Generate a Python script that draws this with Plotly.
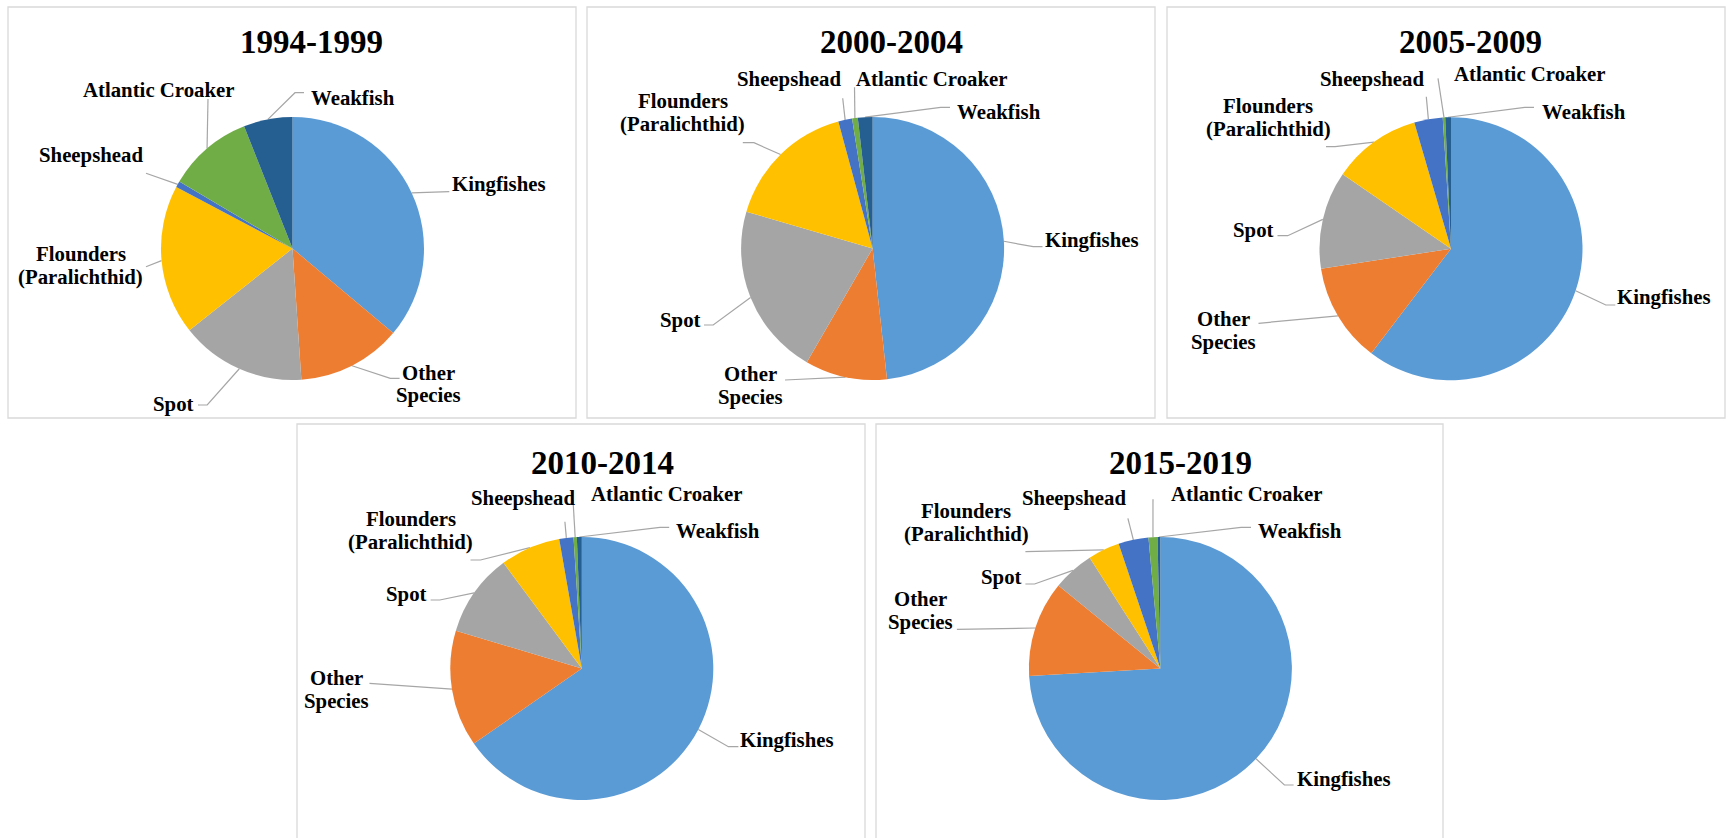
import math
import plotly.graph_objects as go

# ---------------------------------------------------------------- data
periods = ["1994-1999", "2000-2004", "2005-2009", "2010-2014", "2015-2019"]

species = ["Kingfishes", "Other Species", "Spot", "Flounders (Paralichthid)",
           "Sheepshead", "Atlantic Croaker", "Weakfish"]
species_text = ["Kingfishes", "Other\nSpecies", "Spot", "Flounders\n(Paralichthid)",
                "Sheepshead", "Atlantic Croaker", "Weakfish"]

# percent share of landings per species, same order as `species`
share_1994_1999 = [36.1, 12.8, 15.4, 18.4, 0.75, 10.5, 6.0]
share_2000_2004 = [48.3, 10.1, 21.2, 16.3, 1.7, 0.7, 1.8]
share_2005_2009 = [60.3, 12.2, 12.0, 10.9, 3.5, 0.3, 0.7]
share_2010_2014 = [65.3, 14.3, 10.2, 7.4, 1.75, 0.4, 0.6]
share_2015_2019 = [74.2, 11.8, 5.1, 3.9, 3.7, 1.1, 0.35]

shares = [share_1994_1999, share_2000_2004, share_2005_2009,
          share_2010_2014, share_2015_2019]

colors = ["#5B9BD5", "#ED7D31", "#A5A5A5", "#FFC000", "#4472C4", "#70AD47", "#255E91"]

# ---------------------------------------------------------------- layout (pixels)
W, H = 1732, 838
R = 131.5
FONT = "Liberation Serif"
LABEL_SIZE = 20.8
TITLE_SIZE = 33
LEADER = "#A6A6A6"
BORDER = "#D9D9D9"

panels = [
    dict(center=(292.5, 248.5), box=(8, 7, 576, 418), title=(311.7, 41.5)),
    dict(center=(872.6, 248.5), box=(587, 7, 1155, 418), title=(891.0, 41.5)),
    dict(center=(1451.0, 248.7), box=(1167, 7, 1725, 418), title=(1470.5, 41.5)),
    dict(center=(581.8, 668.5), box=(297, 424, 865, 850), title=(602.0, 462.5)),
    dict(center=(1160.4, 668.5), box=(876, 424, 1443, 850), title=(1180.0, 462.5)),
]

# per panel, per species: text line centres and the leader-line path from the
# slice edge towards the label
label_layout = [
    [  # 1994-1999
        dict(lines=[(499.2, 184.0)], path=[(449.3, 191.7)]),
        dict(lines=[(428.4, 372.6), (428.6, 395.4)], path=[(390.3, 378.3), (399.6, 378.3)]),
        dict(lines=[(173.9, 403.6)], path=[(207.2, 405.0), (198.0, 405.0)]),
        dict(lines=[(80.7, 253.8), (80.5, 277.2)], path=[(146.0, 266.7)]),
        dict(lines=[(90.6, 155.0)], path=[(146.0, 173.3)]),
        dict(lines=[(159.1, 89.0)], path=[(208.0, 99.0)]),
        dict(lines=[(353.0, 97.3)], path=[(295.0, 92.7), (304.0, 92.7)]),
    ],
    [  # 2000-2004
        dict(lines=[(1092.0, 240.2)], path=[(1033.2, 246.7), (1042.5, 246.7)]),
        dict(lines=[(750.9, 373.6), (750.7, 396.9)], path=[(785.0, 380.0)]),
        dict(lines=[(680.5, 320.2)], path=[(713.2, 325.0), (704.0, 325.0)]),
        dict(lines=[(683.3, 100.2), (682.9, 123.8)], path=[(753.9, 142.7), (742.8, 142.7)]),
        dict(lines=[(788.5, 78.6)], path=[(842.7, 98.3)]),
        dict(lines=[(932.4, 78.6)], path=[(854.5, 87.3)]),
        dict(lines=[(999.0, 111.0)], path=[(940.7, 107.3), (950.0, 107.3)]),
    ],
    [  # 2005-2009
        dict(lines=[(1664.4, 296.9)], path=[(1605.8, 305.0), (1615.3, 305.0)]),
        dict(lines=[(1223.0, 318.6), (1223.0, 341.9)], path=[(1258.5, 323.3)]),
        dict(lines=[(1253.7, 229.6)], path=[(1287.7, 235.7), (1277.5, 235.7)]),
        dict(lines=[(1268.2, 105.2), (1268.2, 128.6)], path=[(1335.1, 146.7), (1326.0, 146.7)]),
        dict(lines=[(1372.0, 78.6)], path=[(1426.3, 96.7)]),
        dict(lines=[(1530.3, 73.6)], path=[(1438.0, 78.3)]),
        dict(lines=[(1583.7, 111.0)], path=[(1524.8, 107.3), (1534.0, 107.3)]),
    ],
    [  # 2010-2014
        dict(lines=[(787.2, 740.2)], path=[(728.4, 746.7), (738.4, 746.7)]),
        dict(lines=[(336.6, 677.6), (336.8, 700.9)], path=[(369.5, 683.3)]),
        dict(lines=[(406.5, 593.6)], path=[(439.8, 600.0), (430.6, 600.0)]),
        dict(lines=[(410.8, 518.6), (410.8, 542.0)], path=[(480.5, 560.0), (470.5, 560.0)]),
        dict(lines=[(523.1, 497.9)], path=[(564.9, 521.7)]),
        dict(lines=[(667.4, 493.6)], path=[(573.0, 500.0)]),
        dict(lines=[(717.9, 530.9)], path=[(660.0, 527.3), (669.2, 527.3)]),
    ],
    [  # 2015-2019
        dict(lines=[(1343.5, 778.6)], path=[(1284.4, 785.0), (1293.6, 785.0)]),
        dict(lines=[(920.5, 598.6), (920.3, 621.9)], path=[(956.9, 629.3)]),
        dict(lines=[(1001.0, 576.9)], path=[(1034.6, 584.0), (1025.4, 584.0)]),
        dict(lines=[(966.2, 510.2), (966.5, 533.6)], path=[(1025.4, 551.7)]),
        dict(lines=[(1074.4, 497.9)], path=[(1127.9, 518.3)]),
        dict(lines=[(1246.8, 493.6)], path=[(1153.0, 499.3)]),
        dict(lines=[(1300.1, 530.9)], path=[(1241.0, 527.3), (1251.0, 527.3)]),
    ],
]


def slice_mid_points(values, cx, cy, r):
    """Point on the rim at the middle of each slice (clockwise from 12 o'clock)."""
    total = float(sum(values))
    pts, acc = [], 0.0
    for v in values:
        theta = math.radians((acc + v / 2.0) / total * 360.0)
        pts.append((cx + r * math.sin(theta), cy - r * math.cos(theta)))
        acc += v
    return pts


fig = go.Figure()
shapes, annotations = [], []

for period, values, panel, labels in zip(periods, shares, panels, label_layout):
    cx, cy = panel["center"]
    fig.add_trace(go.Pie(
        labels=species,
        values=values,
        sort=False,
        direction="clockwise",
        rotation=0,
        marker=dict(colors=colors, line=dict(width=0)),
        textinfo="none",
        hovertemplate="%{label}: %{percent}<extra>" + period + "</extra>",
        showlegend=False,
        domain=dict(x=[(cx - R) / W, (cx + R) / W],
                    y=[1 - (cy + R) / H, 1 - (cy - R) / H]),
    ))

    # leader lines, starting on the rim at each slice's middle angle
    xs, ys = [], []
    for start, lab in zip(slice_mid_points(values, cx, cy, R), labels):
        pts = [start] + lab["path"]
        xs += [p[0] for p in pts] + [None]
        ys += [p[1] for p in pts] + [None]
    fig.add_trace(go.Scatter(x=xs, y=ys, mode="lines",
                             line=dict(color=LEADER, width=1.2),
                             hoverinfo="skip", showlegend=False))

    # labels
    for text, lab in zip(species_text, labels):
        for line_text, (lx, ly) in zip(text.split("\n"), lab["lines"]):
            annotations.append(dict(
                x=lx, y=ly, xref="x", yref="y", text=line_text, showarrow=False,
                xanchor="center", yanchor="middle",
                font=dict(family=FONT, size=LABEL_SIZE, color="black", weight="bold"),
            ))

    # title
    tx, ty = panel["title"]
    annotations.append(dict(
        x=tx, y=ty, xref="x", yref="y", text=period, showarrow=False,
        xanchor="center", yanchor="middle",
        font=dict(family=FONT, size=TITLE_SIZE, color="black", weight="bold"),
    ))

    # chart-area frame
    x0, y0, x1, y1 = panel["box"]
    shapes.append(dict(type="rect", xref="x", yref="y", x0=x0, y0=y0, x1=x1, y1=y1,
                       line=dict(color=BORDER, width=1.3), layer="below"))

fig.update_layout(
    width=W, height=H,
    margin=dict(l=0, r=0, t=0, b=0),
    paper_bgcolor="white", plot_bgcolor="white",
    xaxis=dict(range=[0, W], visible=False, fixedrange=True, domain=[0, 1]),
    yaxis=dict(range=[H, 0], visible=False, fixedrange=True, domain=[0, 1]),
    shapes=shapes,
    annotations=annotations,
    showlegend=False,
)

fig.write_html("out.html", config={"displayModeBar": False})
